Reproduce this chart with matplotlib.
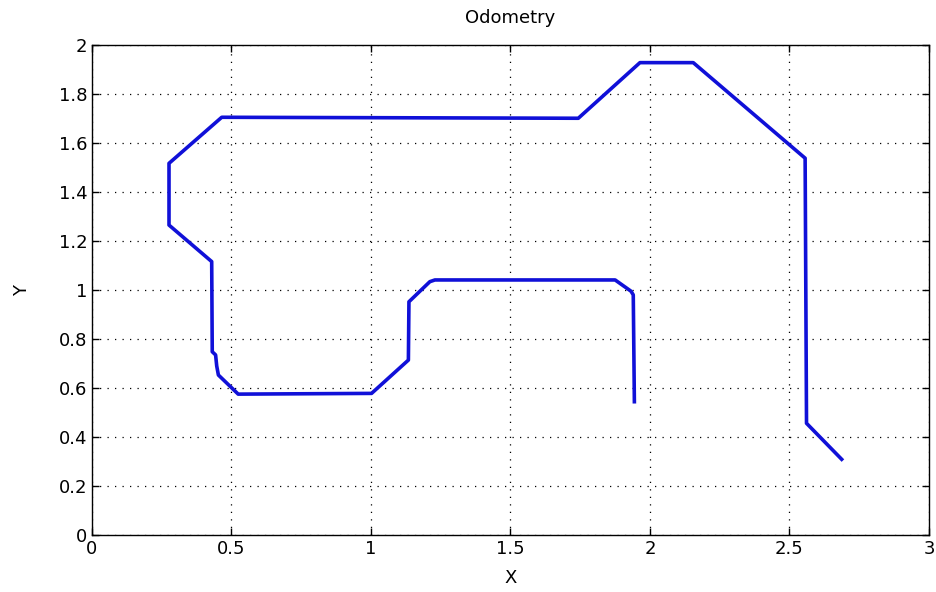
import matplotlib
matplotlib.use("Agg")
import matplotlib.pyplot as plt

# Odometry path (x, y)
x_vals = [1.944, 1.940, 1.932, 1.875, 1.229, 1.211, 1.136, 1.134, 1.002, 0.524,
          0.453, 0.447, 0.443, 0.431, 0.429, 0.276, 0.276, 0.465, 1.743, 1.964,
          2.155, 2.556, 2.561, 2.687]
y_vals = [0.544, 0.980, 0.995, 1.041, 1.041, 1.034, 0.952, 0.714, 0.578, 0.575,
          0.653, 0.690, 0.735, 0.748, 1.116, 1.265, 1.517, 1.705, 1.701, 1.928,
          1.928, 1.538, 0.456, 0.309]

x_ticks = [0, 0.5, 1, 1.5, 2, 2.5, 3]
x_tick_labels = ["0", "0.5", "1", "1.5", "2", "2.5", "3"]
y_ticks = [0, 0.2, 0.4, 0.6, 0.8, 1, 1.2, 1.4, 1.6, 1.8, 2]
y_tick_labels = ["0", "0.2", "0.4", "0.6", "0.8", "1", "1.2", "1.4", "1.6", "1.8", "2"]

plt.rcParams['font.family'] = ['DejaVu Sans']
fig = plt.figure(figsize=(9.37, 5.92), dpi=100)
ax = fig.add_axes([92/937, 57/592, (929-92)/937, (535-45)/592])

ax.plot(x_vals, y_vals, color='#1010d8', linewidth=2.6, solid_joinstyle='round')

ax.set_xlim(0, 3)
ax.set_ylim(0, 2)
ax.set_xticks(x_ticks)
ax.set_xticklabels(x_tick_labels)
ax.set_yticks(y_ticks)
ax.set_yticklabels(y_tick_labels)
ax.tick_params(direction='in', length=5, labelsize=13, top=True, right=True, width=1)
ax.grid(True, linestyle=(0, (1, 5)), color='black', linewidth=0.9)
for s in ax.spines.values():
    s.set_linewidth(1.0)

ax.set_title("Odometry", fontsize=13, pad=16)
ax.set_xlabel("X", fontsize=13, labelpad=8)
ax.set_ylabel("Y", fontsize=13, labelpad=20)

fig.savefig("out.png", dpi=100, facecolor='white')
